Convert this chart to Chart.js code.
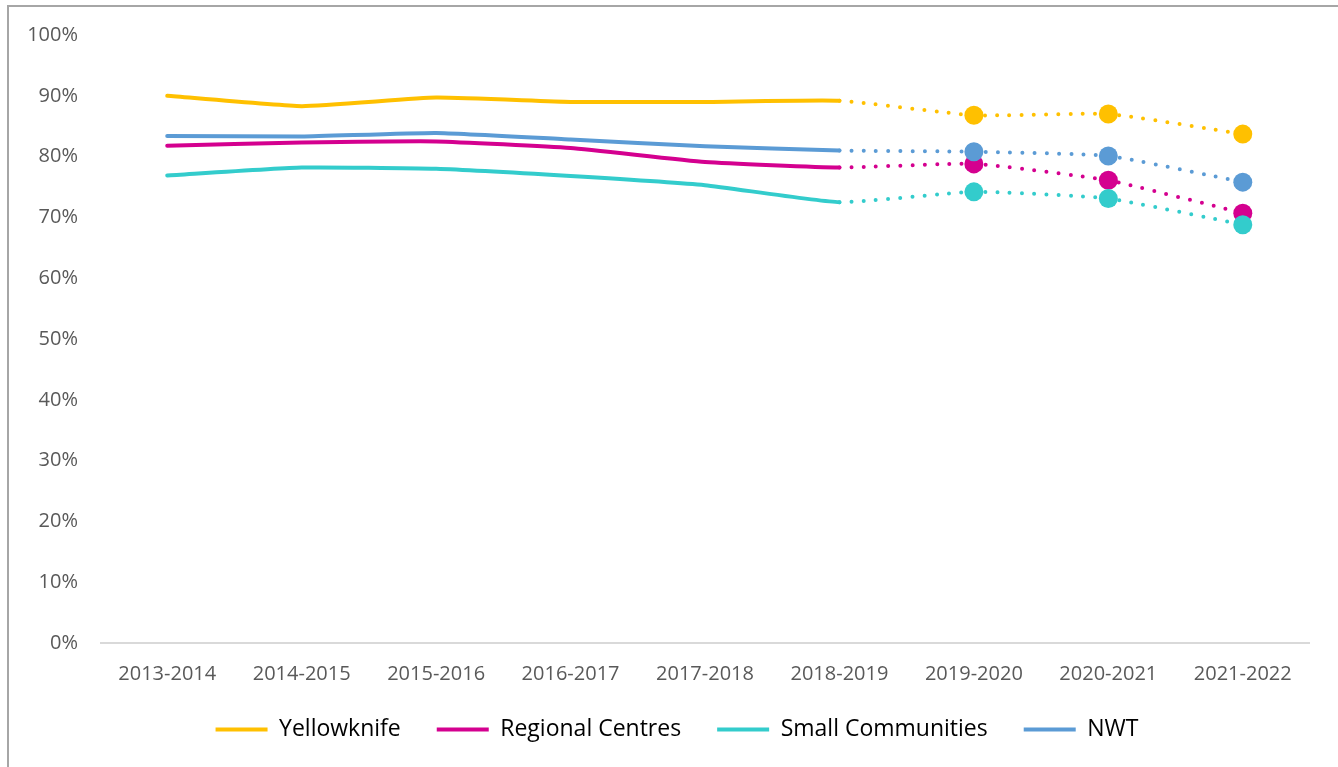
<!DOCTYPE html>
<html>
<head>
<meta charset="utf-8">
<script src="https://cdn.jsdelivr.net/npm/chart.js@4"></script>
<style>
  body { margin: 0; background: #fff; }
  #wrap { position: relative; width: 1338px; height: 767px; overflow: hidden; }
  #frame { position: absolute; left: 7px; top: 5px; width: 1400px; height: 800px;
           border-left: 2px solid #a6a6a6; border-top: 2px solid #a6a6a6; }
  #chart { position: absolute; left: 0; top: 0; }
</style>
</head>
<body>
<div id="wrap">
  <div id="frame"></div>
  <canvas id="chart" width="1338" height="767"></canvas>
</div>
<script>
"use strict";
const years = ['2013-2014', '2014-2015', '2015-2016', '2016-2017', '2017-2018',
               '2018-2019', '2019-2020', '2020-2021', '2021-2022'];
const yellowknife = [90.0, 88.3, 89.7, 89.0, 89.0, 89.2, 86.8, 87.0, 83.7];
const regional = [81.8, 82.3, 82.5, 81.4, 79.1, 78.2, 78.8, 76.1, 70.7];
const small = [76.9, 78.2, 78.0, 76.8, 75.3, 72.5, 74.2, 73.1, 68.8];
const nwt = [83.4, 83.3, 83.9, 82.8, 81.7, 81.0, 80.8, 80.1, 75.8];
const yTicks = [0, 10, 20, 30, 40, 50, 60, 70, 80, 90, 100];

// last actual year; everything after it is projected (dotted + markers)
const lastActual = 5;

const canvas = document.getElementById('chart');
const ctx = canvas.getContext('2d');

function series(label, data, color, order) {
    return {
        label: label,
        data: data,
        borderColor: color,
        backgroundColor: color,
        borderWidth: 4,
        borderCapStyle: 'round',
        tension: 0.15,
        order: order,
        pointRadius: data.map((v, i) => i > lastActual ? 9.5 : 0),
        pointHoverRadius: data.map((v, i) => i > lastActual ? 9.5 : 0),
        pointBorderWidth: 0,
        pointBackgroundColor: color,
        segment: {
            borderDash: s => s.p0DataIndex >= lastActual ? [0, 12.2] : undefined
        }
    };
}

// legend in the original sits a bit right of the canvas centre
const legendShift = {
    id: 'legendShift',
    afterLayout(chart) {
        chart.legend.left += 22;
        chart.legend.right += 22;
    }
};

new Chart(ctx, {
    type: 'line',
    data: {
        labels: years,
        datasets: [
            series('Yellowknife', yellowknife, '#FFC000', 3),
            series('Regional Centres', regional, '#D4008F', 2),
            series('Small Communities', small, '#33CCCC', 1),
            series('NWT', nwt, '#5B9BD5', 0)
        ]
    },
    plugins: [legendShift],
    options: {
        responsive: false,
        animation: false,
        layout: { padding: { top: 35, right: 28, left: 0, bottom: 16 } },
        plugins: {
            tooltip: { enabled: false },
            legend: {
                position: 'bottom',
                labels: {
                    boxWidth: 52,
                    boxHeight: 4,
                    padding: 36,
                    color: '#000',
                    font: { family: 'Open Sans', size: 23 },
                    generateLabels: chart => chart.data.datasets.map((ds, i) => ({
                        text: ds.label,
                        fillStyle: ds.borderColor,
                        strokeStyle: ds.borderColor,
                        lineWidth: 0,
                        hidden: false,
                        datasetIndex: i,
                        fontColor: '#000'
                    }))
                }
            }
        },
        scales: {
            x: {
                offset: true,
                grid: { display: false, offset: true },
                border: { display: false },
                ticks: {
                    color: '#595959',
                    padding: 11,
                    maxRotation: 0,
                    font: { family: 'Open Sans', size: 20 }
                },
                afterFit: scale => { scale.height = 39; }
            },
            y: {
                min: 0,
                max: 100,
                afterBuildTicks: scale => { scale.ticks = yTicks.map(v => ({ value: v })); },
                grid: {
                    drawTicks: false,
                    lineWidth: 2,
                    color: c => c.tick && c.tick.value === 0 ? '#d9d9d9' : 'rgba(0,0,0,0)'
                },
                border: { display: false },
                ticks: {
                    color: '#595959',
                    padding: 22,
                    font: { family: 'Open Sans', size: 20 },
                    callback: v => v + '%'
                },
                afterFit: scale => { scale.width = 100; }
            }
        }
    }
});
</script>
</body>
</html>
